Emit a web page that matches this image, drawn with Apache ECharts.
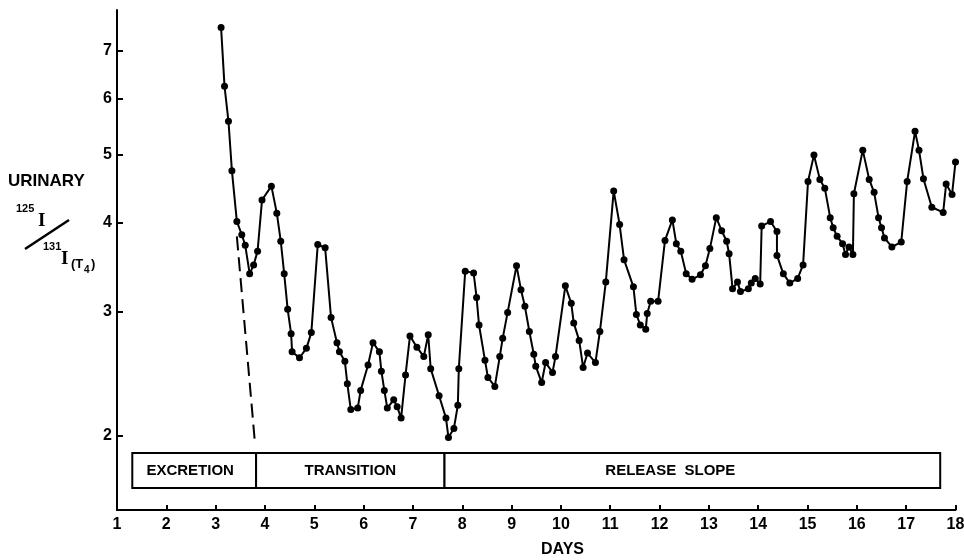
<!DOCTYPE html>
<html><head><meta charset="utf-8">
<script src="https://cdn.jsdelivr.net/npm/echarts@6/dist/echarts.min.js"></script>
<style>html,body{margin:0;padding:0;background:#fff}#c{width:964px;height:560px}</style>
</head><body><div id="c"></div>
<script>
const days = [3.11,3.18,3.26,3.33,3.43,3.53,3.60,3.69,3.77,3.85,
3.94,4.13,4.24,4.32,4.39,4.46,4.53,4.55,4.70,4.84,
4.94,5.07,5.22,5.34,5.46,5.51,5.62,5.67,5.74,5.88,
5.94,6.09,6.19,6.32,6.36,6.42,6.48,6.61,6.68,6.76,
6.85,6.94,7.08,7.22,7.31,7.36,7.53,7.67,7.72,7.83,
7.91,7.93,8.06,8.23,8.29,8.34,8.46,8.52,8.66,8.76,
8.82,8.92,9.10,9.19,9.27,9.36,9.45,9.49,9.61,9.69,
9.83,9.89,10.09,10.21,10.26,10.37,10.45,10.54,10.70,10.79,
10.91,11.07,11.19,11.28,11.47,11.53,11.61,11.72,11.75,11.82,
11.97,12.11,12.26,12.34,12.43,12.54,12.66,12.83,12.93,13.02,
13.15,13.26,13.36,13.41,13.48,13.58,13.64,13.80,13.86,13.94,
14.04,14.07,14.25,14.38,14.38,14.51,14.64,14.80,14.91,15.01,
15.13,15.25,15.35,15.46,15.52,15.60,15.71,15.77,15.84,15.92,
15.94,16.12,16.25,16.35,16.44,16.50,16.56,16.71,16.90,17.02,
17.18,17.26,17.35,17.52,17.75,17.81,17.93,18.00];
const ratio = [7.56,6.24,5.57,4.74,4.02,3.85,3.72,3.39,3.49,3.65,
4.31,4.51,4.13,3.77,3.39,3.02,2.79,2.63,2.58,2.66,
2.80,3.73,3.69,2.94,2.71,2.63,2.55,2.37,2.18,2.19,
2.32,2.52,2.71,2.63,2.47,2.32,2.19,2.25,2.20,2.12,
2.44,2.77,2.67,2.59,2.78,2.49,2.28,2.12,1.99,2.05,
2.21,2.49,3.42,3.40,3.14,2.87,2.56,2.42,2.35,2.59,
2.75,2.99,3.48,3.22,3.05,2.81,2.61,2.51,2.38,2.54,
2.46,2.59,3.26,3.08,2.89,2.73,2.50,2.62,2.54,2.81,
3.30,4.44,3.98,3.55,3.25,2.97,2.87,2.83,2.98,3.10,
3.10,3.78,4.04,3.74,3.65,3.39,3.33,3.38,3.48,3.68,
4.07,3.90,3.77,3.62,3.23,3.30,3.20,3.23,3.29,3.34,
3.28,3.96,4.02,3.89,3.60,3.39,3.29,3.34,3.49,4.58,
4.99,4.61,4.48,4.07,3.94,3.83,3.74,3.61,3.70,3.61,
4.40,5.07,4.61,4.42,4.07,3.94,3.81,3.70,3.76,4.58,
5.39,5.07,4.62,4.21,4.14,4.54,4.39,4.88];
const extrapDays = [3.43, 3.79];
const extrapRatio = [3.83, 1.98];
const yTicks = [2, 3, 4, 5, 6, 7];
const phaseNames = ['EXCRETION', 'TRANSITION', 'RELEASE  SLOPE'];
const phaseStart = [1.31, 3.82, 7.64];
const phaseEnd = [3.82, 7.64, 17.69];

const BOX_TOP = 1.892, BOX_BOTTOM = 1.689;
const FONT = 'Liberation Sans';

const chart = echarts.init(document.getElementById('c'), null, {renderer: 'canvas'});
const mainData = days.map((d, i) => [d, ratio[i]]);
const extrapData = extrapDays.map((d, i) => [d, extrapRatio[i]]);
const labelOffsets = [[-4, 0], [0, 0], [-22, 0]];
const areas = phaseNames.map((n, i) => [
  {name: n, coord: [phaseStart[i], BOX_TOP],
   label: {offset: labelOffsets[i]}},
  {coord: [phaseEnd[i], BOX_BOTTOM]}
]);

chart.setOption({
  animation: false,
  backgroundColor: '#fff',
  grid: {left: 117, right: 8.5, top: 10, bottom: 50, containLabel: false, outerBoundsMode: 'none'},
  xAxis: {
    type: 'value', min: 1, max: 18, interval: 1,
    axisLine: {show: true, onZero: false, lineStyle: {color: '#000', width: 2}},
    axisTick: {show: true, inside: true, length: 5, lineStyle: {color: '#000', width: 2}},
    axisLabel: {color: '#000', fontFamily: FONT, fontWeight: 'bold', fontSize: 16, margin: 7,
      showMinLabel: true, showMaxLabel: true},
    splitLine: {show: false}
  },
  yAxis: {
    type: 'log', logBase: 10, min: 1.572, max: 8,
    axisLine: {show: true, lineStyle: {color: '#000', width: 2}},
    axisTick: {show: true, inside: true, length: 6, customValues: yTicks, lineStyle: {color: '#000', width: 2}},
    axisLabel: {color: '#000', fontFamily: FONT, fontWeight: 'bold', fontSize: 16, margin: 5, customValues: yTicks},
    splitLine: {show: false},
    minorTick: {show: false}
  },
  graphic: [
    {type: 'text', left: 8, top: 173, style: {text: 'URINARY', font: 'bold 17px ' + FONT, fill: '#000'}},
    {type: 'text', left: 16, top: 203, style: {text: '125', font: 'bold 11px ' + FONT, fill: '#000'}},
    {type: 'text', left: 38, top: 212, style: {text: 'I', font: 'bold 19px Liberation Serif', fill: '#000'}},
    {type: 'line', shape: {x1: 25, y1: 249, x2: 69, y2: 220}, style: {stroke: '#000', lineWidth: 2.5}},
    {type: 'text', left: 43, top: 241, style: {text: '131', font: 'bold 11px ' + FONT, fill: '#000'}},
    {type: 'text', left: 61, top: 250, style: {text: 'I', font: 'bold 19px Liberation Serif', fill: '#000'}},
    {type: 'text', left: 71, top: 258, style: {text: '(T', font: 'bold 13px ' + FONT, fill: '#000'}},
    {type: 'text', left: 84, top: 265, style: {text: '4', font: 'bold 10px ' + FONT, fill: '#000'}},
    {type: 'text', left: 91, top: 258, style: {text: ')', font: 'bold 13px ' + FONT, fill: '#000'}},
    {type: 'text', left: 541, top: 542, style: {text: 'DAYS', font: 'bold 16px ' + FONT, fill: '#000'}}
  ],
  series: [
    {
      type: 'line', data: mainData, symbol: 'circle', symbolSize: 7,
      itemStyle: {color: '#000'}, lineStyle: {color: '#000', width: 2},
      clip: false, z: 3,
      markArea: {
        silent: true,
        itemStyle: {color: '#fff', borderColor: '#000', borderWidth: 2},
        label: {show: true, position: 'inside', color: '#000', fontFamily: FONT, fontWeight: 'bold', fontSize: 15},
        data: areas
      }
    },
    {
      type: 'line', data: extrapData, symbol: 'none',
      lineStyle: {color: '#000', width: 2, type: [14, 7]}, z: 2
    }
  ]
});
</script></body></html>
